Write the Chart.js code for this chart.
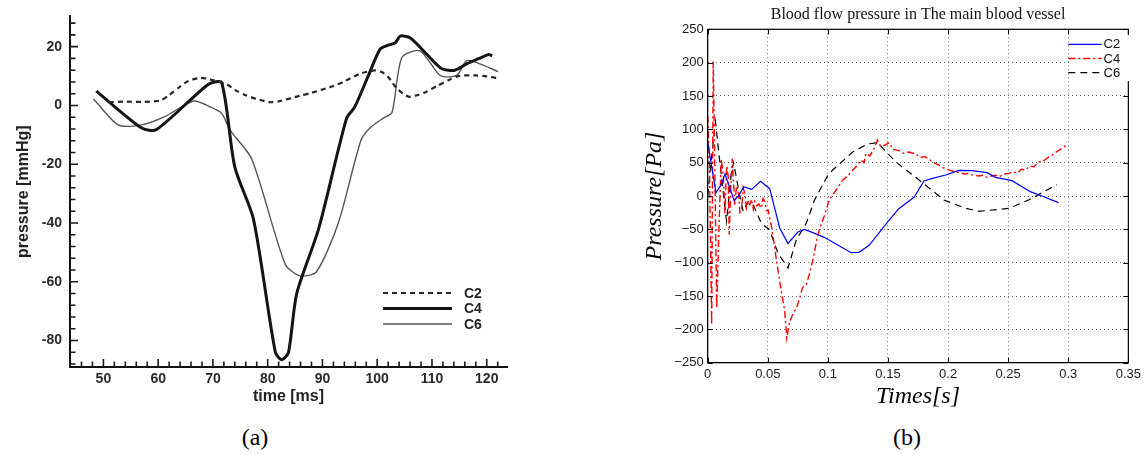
<!DOCTYPE html>
<html>
<head>
<meta charset="utf-8">
<title>Blood pressure comparison</title>
<script src="https://cdn.jsdelivr.net/npm/chart.js@4.4.1/dist/chart.umd.min.js"></script>
<style>
  body { margin: 0; background: #fff; width: 1145px; height: 455px; position: relative; overflow: hidden; }
  #boxA { position: absolute; left: 0; top: 0; width: 540px; height: 420px; }
  #boxB { position: absolute; left: 620px; top: 0; width: 525px; height: 420px; }
  .cap { position: absolute; top: 423px; width: 100px; text-align: center; line-height: 28px;
         font-family: "Liberation Serif", serif; font-size: 24px; color: #000; }
</style>
</head>
<body>
<div id="boxA"><canvas id="chartA"></canvas></div>
<div id="boxB"><canvas id="chartB"></canvas></div>
<div class="cap" style="left:205px">(a)</div>
<div class="cap" style="left:857px">(b)</div>
<script>
// ---- (a) measured pressure, time in ms, pressure in mmHg ----
const aC2Time = [51, 54, 57, 60.4, 62, 64, 65.5, 67.7, 69.2, 72.5, 74, 76, 78, 80.4, 82, 85.9, 88, 92, 94, 97, 99.6, 101, 102, 103.6, 105.7, 107.5, 109, 111, 113, 115.1, 118, 120, 122.4];
const aC2Val = [1.1, 1.3, 1.2, 1.7, 3.5, 6.4, 8.3, 9.4, 9.0, 7.2, 5.3, 3.5, 2.2, 1.1, 1.4, 3.3, 4.3, 6.6, 8.2, 10.9, 11.9, 11.2, 9.7, 5.8, 3.0, 3.6, 4.7, 6.7, 8.6, 10.1, 10.2, 9.9, 9.2];

const aC4Time = [48.7, 57, 59.7, 69.2, 71.6, 74, 77.4, 81.4, 82.6, 83.8, 85.3, 89.3, 94.4, 95.9, 98.4, 100.5, 102, 103.3, 104.2, 106, 109, 111.8, 114.2, 116.4, 118.5, 120.3, 121];
const aC4Val = [4.9, -7.7, -8.2, 7.2, 7.7, -21, -38.7, -84, -86.5, -84, -64, -42, -4.4, -0.5, 10.2, 19.1, 20.5, 21.3, 23.6, 23, 17.5, 12.5, 12, 14.2, 15.9, 17.3, 16.9];

const aC6Time = [48.2, 52.7, 57, 61, 66.5, 69.5, 71.6, 73.1, 77.1, 83.2, 85.9, 88.9, 92.9, 97, 98.7, 101.1, 102.7, 104.5, 107.8, 111.5, 114.5, 116.3, 118.2, 122.1];
const aC6Val = [2.2, -6.6, -6.6, -4, 1.5, -0.5, -2.7, -8.3, -18.3, -54, -58, -56.6, -40, -12, -7.6, -4.3, -2.4, 16.3, 18.6, 10.2, 10.2, 15.2, 14.6, 11.5];

const aXTicks = [50, 60, 70, 80, 90, 100, 110, 120];
const aYTicks = [-80, -60, -40, -20, 0, 20];
const aXMarks = [46, 48, 50, 52, 54, 56, 58, 60, 62, 64, 66, 68, 70, 72, 74, 76, 78, 80, 82, 84, 86, 88, 90, 92, 94, 96, 98, 100, 102, 104, 106, 108, 110, 112, 114, 116, 118, 120, 122];
const aYMarks = [-88, -84, -80, -76, -72, -68, -64, -60, -56, -52, -48, -44, -40, -36, -32, -28, -24, -20, -16, -12, -8, -4, 0, 4, 8, 12, 16, 20, 24, 28];
const aLabels = ['C2', 'C4', 'C6'];

// ---- (b) simulated pressure, time in s, pressure in Pa ----
const bC2Time = [0, 0.0033, 0.0069, 0.011, 0.0144, 0.018, 0.022, 0.026, 0.030, 0.0365, 0.044, 0.0516, 0.0599, 0.0668, 0.0751, 0.0806, 0.089, 0.097, 0.1097, 0.1193, 0.126, 0.1345, 0.1496, 0.159, 0.1717, 0.18, 0.187, 0.198, 0.209, 0.22, 0.2325, 0.2394, 0.2532, 0.2684, 0.278, 0.2919];
const bC2Val = [81, 44, 5, 16, 33, 14, -7, 1, 14, 10, 22, 11, -48, -71, -54, -50, -56, -62, -75, -85, -84.5, -73.5, -39, -19, -2, 22.5, 26.5, 31.5, 38.5, 38, 35, 28, 23, 6.5, 0, -10];

const bC4Time = [0, 0.0015, 0.0033, 0.0046, 0.0058, 0.0075, 0.0095, 0.0113, 0.013, 0.0143, 0.0158, 0.0171, 0.0179, 0.0192, 0.0204, 0.0215, 0.0226, 0.024, 0.0254, 0.0268, 0.0282, 0.0295, 0.0309, 0.0322, 0.0336, 0.035, 0.0365, 0.038, 0.0392, 0.041, 0.0425, 0.0447, 0.046, 0.0475, 0.049, 0.0502, 0.0535, 0.0572, 0.0605, 0.064, 0.0658, 0.068, 0.071, 0.074, 0.077, 0.079, 0.082, 0.085, 0.088, 0.0903, 0.093, 0.097, 0.1013, 0.1069, 0.1124, 0.1165, 0.1207, 0.124, 0.1276, 0.13, 0.1317, 0.135, 0.1386, 0.1413, 0.144, 0.1483, 0.151, 0.154, 0.1593, 0.163, 0.167, 0.1732, 0.177, 0.181, 0.1842, 0.188, 0.1915, 0.1952, 0.199, 0.2025, 0.2063, 0.21, 0.2135, 0.2173, 0.221, 0.2256, 0.229, 0.2325, 0.236, 0.2394, 0.243, 0.2465, 0.2505, 0.254, 0.2575, 0.261, 0.2643, 0.268, 0.2715, 0.2753, 0.279, 0.2825, 0.2863, 0.29, 0.2935, 0.297, 0.2988];
const bC4Val = [120, 40, -193, 202, 60, -168, -40, 55, 30, -26, 45, 29, -58, 10, 56, 20, -13, 15, 9, -25, -21, 12, 4, -18, -8, -13, -5, -20, -8, -15, -12, -18, -4, -8, -22, -21, -50, -96, -135, -171, -213, -190, -176, -168, -150, -137, -133, -115, -92, -70, -50, -30, -5, 9, 24, 30, 39, 45, 54, 50, 64, 60, 72, 84, 74, 77, 80, 70, 68, 64, 66, 63, 58, 59, 55, 50, 47, 43, 40, 38, 36, 35, 33, 34, 31, 30, 31, 28, 30, 31, 29, 33, 34, 36, 34, 40, 39, 45, 44, 51, 52, 57, 61, 66, 70, 74, 80];

const bC6Time = [0, 0.003, 0.0065, 0.0102, 0.0143, 0.0157, 0.0199, 0.0215, 0.0268, 0.0295, 0.0337, 0.038, 0.0447, 0.0516, 0.0585, 0.0668, 0.0737, 0.082, 0.0889, 0.0999, 0.104, 0.1207, 0.133, 0.1413, 0.1566, 0.1759, 0.1966, 0.2146, 0.2256, 0.2505, 0.267, 0.2905];
const bC6Val = [0, 55, 111, 49, -16, -38, 39, 50, -1, -23, -8, -14, -41, -51, -86, -108, -66, -41, -6, 31, 39, 66, 78, 80, 51, 24, -6, -18.5, -23, -18.5, -6, 17];

const bXTicks = [0, 0.05, 0.1, 0.15, 0.2, 0.25, 0.3, 0.35];
const bXTickText = ['0', '0.05', '0.1', '0.15', '0.2', '0.25', '0.3', '0.35'];
const bYTicks = [-250, -200, -150, -100, -50, 0, 50, 100, 150, 200, 250];
const bYTickText = ['\u2212250', '\u2212200', '\u2212150', '\u2212100', '\u221250', '0', '50', '100', '150', '200', '250'];
const bLabels = ['C2', 'C4', 'C6'];

function toPoints(xs, ys) {
  return xs.map((x, i) => ({ x: x, y: ys[i] }));
}

// ticks pointing into the plot for chart (a), long at labelled values
const aTickMarks = {
  id: 'aTickMarks',
  afterDraw(chart) {
    const { ctx, chartArea: ca, scales: { x, y } } = chart;
    ctx.save();
    ctx.strokeStyle = '#1a1a1a';
    ctx.lineWidth = 1.6;
    ctx.beginPath();
    aYMarks.forEach((v) => {
      const py = y.getPixelForValue(v);
      const len = aYTicks.includes(v) ? 8 : 5.5;
      ctx.moveTo(ca.left, py);
      ctx.lineTo(ca.left + len, py);
    });
    aXMarks.forEach((v) => {
      const px = x.getPixelForValue(v);
      const len = aXTicks.includes(v) ? 8 : 5.5;
      ctx.moveTo(px, ca.bottom);
      ctx.lineTo(px, ca.bottom - len);
    });
    ctx.stroke();
    ctx.restore();
  },
};

// legend of chart (a), bottom right inside the plot
const aLegend = {
  id: 'aLegend',
  afterDraw(chart) {
    const ctx = chart.ctx;
    ctx.save();
    chart.data.datasets.forEach((ds, i) => {
      const yy = 293 + i * 15.5;
      ctx.strokeStyle = ds.borderColor;
      ctx.lineWidth = ds.borderWidth;
      ctx.setLineDash(ds.borderDash || []);
      ctx.beginPath();
      ctx.moveTo(383, yy);
      ctx.lineTo(452, yy);
      ctx.stroke();
      ctx.setLineDash([]);
      ctx.fillStyle = '#222';
      ctx.font = 'bold 14px "Liberation Sans", Arial, sans-serif';
      ctx.textBaseline = 'middle';
      ctx.fillText(ds.label, 464, yy + 1);
    });
    ctx.restore();
  },
};

// full box with inward ticks on every side for chart (b)
const bBox = {
  id: 'bBox',
  afterDraw(chart) {
    const { ctx, chartArea: ca, scales: { x, y } } = chart;
    ctx.save();
    ctx.strokeStyle = '#000';
    ctx.lineWidth = 1;
    ctx.beginPath();
    bXTicks.forEach((v) => {
      const px = Math.round(x.getPixelForValue(v)) + 0.5;
      ctx.moveTo(px, ca.bottom); ctx.lineTo(px, ca.bottom - 5);
      ctx.moveTo(px, ca.top); ctx.lineTo(px, ca.top + 5);
    });
    bYTicks.forEach((v) => {
      const py = Math.round(y.getPixelForValue(v)) + 0.5;
      ctx.moveTo(ca.left, py); ctx.lineTo(ca.left + 5, py);
      ctx.moveTo(ca.right, py); ctx.lineTo(ca.right - 5, py);
    });
    ctx.stroke();
    ctx.lineWidth = 1.2;
    ctx.strokeRect(ca.left, ca.top, ca.right - ca.left, ca.bottom - ca.top);
    ctx.restore();
  },
};

// legend of chart (b), top right inside the plot
const bLegend = {
  id: 'bLegend',
  afterDraw(chart) {
    const ctx = chart.ctx;
    ctx.save();
    ctx.fillStyle = '#fff';
    ctx.fillRect(451, 35, 58, 46);
    chart.data.datasets.forEach((ds, i) => {
      const yy = 44.3 + i * 14.2;
      ctx.strokeStyle = ds.borderColor;
      ctx.lineWidth = ds.borderWidth;
      ctx.setLineDash(ds.borderDash || []);
      ctx.beginPath();
      ctx.moveTo(448.3, yy);
      ctx.lineTo(481.7, yy);
      ctx.stroke();
      ctx.setLineDash([]);
      ctx.fillStyle = '#111';
      ctx.font = '13px "Liberation Sans", Arial, sans-serif';
      ctx.textBaseline = 'middle';
      ctx.fillText(ds.label, 483.5, yy + 0.5);
    });
    ctx.restore();
  },
};

const sansBold = '"Liberation Sans", Arial, sans-serif';

new Chart(document.getElementById('chartA'), {
  type: 'line',
  data: {
    datasets: [
      { label: aLabels[0], data: toPoints(aC2Time, aC2Val), borderColor: '#262626', borderWidth: 2.2, borderDash: [5, 4] },
      { label: aLabels[1], data: toPoints(aC4Time, aC4Val), borderColor: '#141414', borderWidth: 3 },
      { label: aLabels[2], data: toPoints(aC6Time, aC6Val), borderColor: '#555', borderWidth: 1.4 },
    ],
  },
  options: {
    responsive: true,
    maintainAspectRatio: false,
    animation: false,
    events: [],
    elements: { point: { radius: 0 }, line: { tension: 0.25, borderCapStyle: 'butt' } },
    layout: { padding: { left: 0, top: 10, right: 33, bottom: 0 } },
    plugins: { legend: { display: false }, tooltip: { enabled: false } },
    scales: {
      x: {
        type: 'linear',
        min: 43.9,
        max: 123.7,
        afterBuildTicks: (s) => { s.ticks = aXTicks.map((v) => ({ value: v })); },
        afterFit: (s) => { s.height = 53; },
        grid: { display: false, drawTicks: false },
        border: { display: true, color: '#111', width: 2 },
        ticks: { padding: 4, color: '#2a2a2a', font: { family: sansBold, size: 14, weight: 'bold' } },
        title: { display: true, text: 'time [ms]', color: '#222', padding: { top: 0, bottom: 13.5 },
                 font: { family: sansBold, size: 16, weight: 'bold' } },
      },
      y: {
        type: 'linear',
        min: -89,
        max: 30.3,
        afterBuildTicks: (s) => { s.ticks = aYTicks.map((v) => ({ value: v })); },
        afterFit: (s) => { s.width = 70; },
        grid: { display: false, drawTicks: false },
        border: { display: true, color: '#111', width: 2 },
        ticks: { padding: 8, color: '#2a2a2a', font: { family: sansBold, size: 14, weight: 'bold' } },
        title: { display: true, text: 'pressure [mmHg]', color: '#222', padding: { top: 14, bottom: 0 },
                 font: { family: sansBold, size: 16, weight: 'bold' } },
      },
    },
  },
  plugins: [aTickMarks, aLegend],
});

const serif = '"Liberation Serif", "Times New Roman", serif';
const sans = '"Liberation Sans", Arial, sans-serif';
const dottedGrid = { color: '#666', lineWidth: 1, drawTicks: false };
// in Chart.js v4 the grid line dash lives under border.dash
const boxBorder = { display: true, color: '#000', width: 1, dash: [1, 3] };

new Chart(document.getElementById('chartB'), {
  type: 'line',
  data: {
    datasets: [
      { label: bLabels[0], data: toPoints(bC2Time, bC2Val), borderColor: '#0000ff', borderWidth: 1.2 },
      { label: bLabels[1], data: toPoints(bC4Time, bC4Val), borderColor: '#ff0000', borderWidth: 1.4, borderDash: [7, 3, 2, 3] },
      { label: bLabels[2], data: toPoints(bC6Time, bC6Val), borderColor: '#000000', borderWidth: 1.2, borderDash: [7, 5] },
    ],
  },
  options: {
    responsive: true,
    maintainAspectRatio: false,
    animation: false,
    events: [],
    elements: { point: { radius: 0 }, line: { tension: 0 } },
    layout: { padding: { left: 0, top: 0, right: 15, bottom: 0 } },
    plugins: {
      legend: { display: false },
      tooltip: { enabled: false },
      title: {
        display: true,
        fullSize: false,
        text: 'Blood flow pressure in The main blood vessel',
        color: '#111',
        font: { family: serif, size: 16, weight: 'normal' },
        padding: { top: 5.5, bottom: 4.6 },
      },
    },
    scales: {
      x: {
        type: 'linear',
        min: 0,
        max: 0.35,
        afterBuildTicks: (s) => { s.ticks = bXTicks.map((v) => ({ value: v })); },
        afterFit: (s) => { s.height = 57.3; },
        grid: dottedGrid,
        border: boxBorder,
        ticks: { padding: 4, color: '#1a1a1a', font: { family: sans, size: 13 },
                 callback: (v, i) => bXTickText[i] },
        title: { display: true, text: 'Times[s]', color: '#000', padding: { top: 0, bottom: 8.6 },
                 font: { family: serif, size: 24, style: 'italic' } },
      },
      y: {
        type: 'linear',
        min: -250,
        max: 250,
        afterBuildTicks: (s) => { s.ticks = bYTicks.map((v) => ({ value: v })); },
        afterFit: (s) => { s.width = 87.7; },
        grid: dottedGrid,
        border: boxBorder,
        ticks: { padding: 4, color: '#1a1a1a', font: { family: sans, size: 13 },
                 callback: (v, i) => bYTickText[i] },
        title: { display: true, text: 'Pressure[Pa]', color: '#000', padding: { top: 20.6, bottom: 0 },
                 font: { family: serif, size: 24, style: 'italic' } },
      },
    },
  },
  plugins: [bBox, bLegend],
});
</script>
</body>
</html>
